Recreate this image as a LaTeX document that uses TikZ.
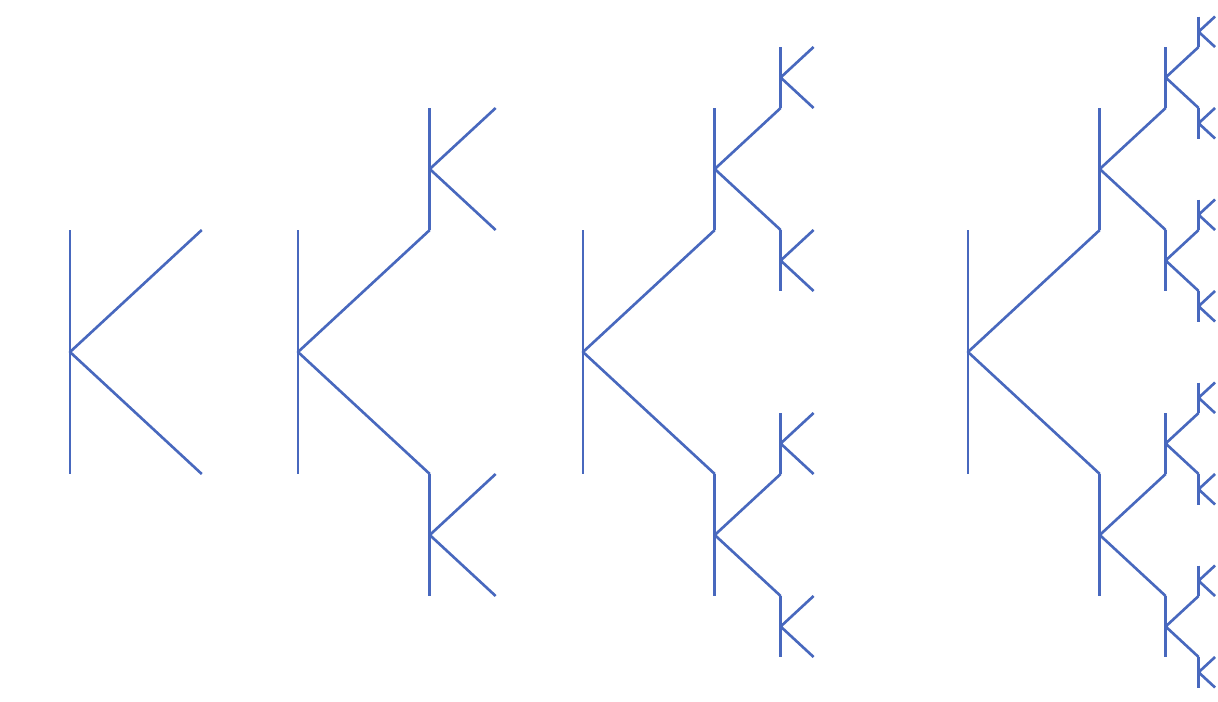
\documentclass[tikz,border=0pt]{standalone}
\usepackage{xcolor}
\usepackage{tikz}

\definecolor{kblue}{RGB}{72,104,190}

% one K with its junction at (#1,#2), half height #3, and #4 levels
\newcommand{\ktree}[4]{%
  \draw[kline] (#1,#2-#3) -- (#1,#2+#3);
  \draw[kline] (#1+1.08*#3,#2-#3) -- (#1,#2) -- (#1+1.08*#3,#2+#3);
  \ifnum#4>1\relax
    \pgfmathsetmacro{\kx}{#1+1.08*#3}%
    \pgfmathsetmacro{\kup}{#2-1.5*#3}%
    \pgfmathsetmacro{\kdown}{#2+1.5*#3}%
    \pgfmathsetmacro{\ksize}{#3/2}%
    \pgfmathtruncatemacro{\klevel}{#4-1}%
    \edef\knext{%
      \noexpand\ktree{\kx}{\kup}{\ksize}{\klevel}%
      \noexpand\ktree{\kx}{\kdown}{\ksize}{\klevel}}%
    \knext
  \fi
}

\begin{document}
\begin{tikzpicture}[
    x=0.02cm, y=-0.02cm,
    kline/.style={draw=kblue, line width=1.5pt, line join=round},
]
    \fill[white] (0,0) rectangle (1218,701);
    \useasboundingbox (0,0) rectangle (1218,701);

    % Stages 1 to 4
    \ktree{70}{352}{122}{1}
    \ktree{298}{352}{122}{2}
    \ktree{583}{352}{122}{3}
    \ktree{968}{352}{122}{4}

\end{tikzpicture}
\end{document}
